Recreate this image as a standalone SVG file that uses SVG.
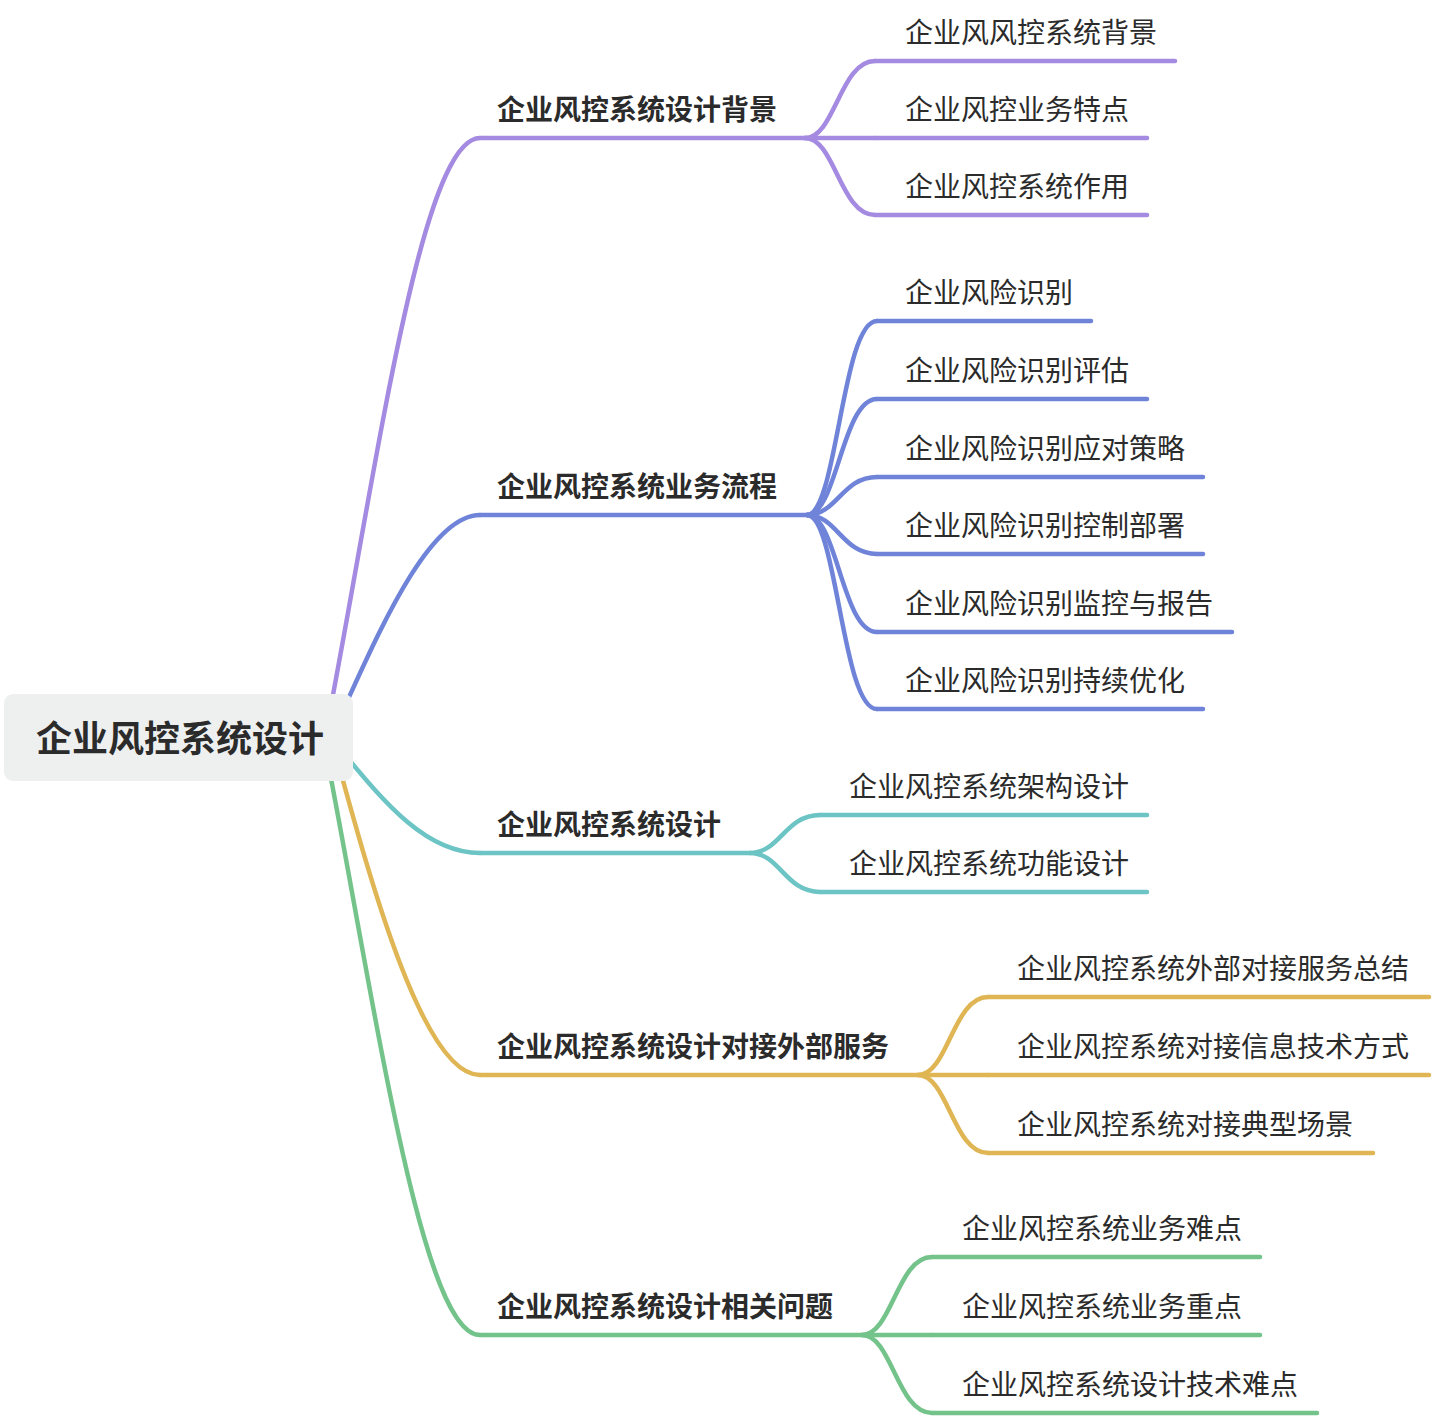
<svg xmlns="http://www.w3.org/2000/svg" width="1432" height="1418" viewBox="0 0 1432 1418">
<style>
text{font-family:"Noto Sans CJK SC","Noto Sans",sans-serif;fill:#2b2b2b}
.root{font-size:36px;font-weight:bold}
.l1{font-size:28px;font-weight:bold}
.l2{font-size:28px}
path,line{fill:none;stroke-width:4.5;stroke-linecap:round}
.p{stroke:#a48ae0}.b{stroke:#6f84d9}.t{stroke:#6cc4c4}.g{stroke:#e0b655}.n{stroke:#74c38b}
</style>
<rect width="1432" height="1418" fill="#ffffff"/>
<g id="connectors">
<path class="p" d="M325 737 C375 480 420 138 480 138"/>
<path class="b" d="M330 737 C360 680 420 515 480 515"/>
<path class="t" d="M330 737 C375 790 420 853 480 853"/>
<path class="g" d="M331 737 C365 860 420 1075 480 1075"/>
<path class="n" d="M323 737 C373 990 420 1335 480 1335"/>
<path class="p" d="M805 138 C835 138 840 61 875 61"/>
<path class="p" d="M805 138 L875 138"/>
<path class="p" d="M805 138 C835 138 840 215 875 215"/>
<path class="b" d="M807 515 C837 515 842 321 877 321"/>
<path class="b" d="M807 515 C837 515 842 399 877 399"/>
<path class="b" d="M807 515 C837 515 842 477 877 477"/>
<path class="b" d="M807 515 C837 515 842 554 877 554"/>
<path class="b" d="M807 515 C837 515 842 632 877 632"/>
<path class="b" d="M807 515 C837 515 842 709 877 709"/>
<path class="t" d="M750 853 C780 853 785 815 820 815"/>
<path class="t" d="M750 853 C780 853 785 892 820 892"/>
<path class="g" d="M918 1075 C948 1075 953 997 988 997"/>
<path class="g" d="M918 1075 L988 1075"/>
<path class="g" d="M918 1075 C948 1075 953 1153 988 1153"/>
<path class="n" d="M862 1335 C892 1335 897 1257 932 1257"/>
<path class="n" d="M862 1335 L932 1335"/>
<path class="n" d="M862 1335 C892 1335 897 1413 932 1413"/>
</g>
<g id="root">
<rect x="4" y="694" width="349" height="87" rx="9" fill="#eef0f0"/>
<text class="root" x="36" y="752">企业风控系统设计</text>
</g>
<g id="n1"><line class="p" x1="480" y1="138" x2="805" y2="138"/><text class="l1" x="497" y="120">企业风控系统设计背景</text></g>
<g id="n1-1"><line class="p" x1="875" y1="61" x2="1175" y2="61"/><text class="l2" x="905" y="43">企业风风控系统背景</text></g>
<g id="n1-2"><line class="p" x1="875" y1="138" x2="1147" y2="138"/><text class="l2" x="905" y="120">企业风控业务特点</text></g>
<g id="n1-3"><line class="p" x1="875" y1="215" x2="1147" y2="215"/><text class="l2" x="905" y="197">企业风控系统作用</text></g>
<g id="n2"><line class="b" x1="480" y1="515" x2="807" y2="515"/><text class="l1" x="497" y="497">企业风控系统业务流程</text></g>
<g id="n2-1"><line class="b" x1="877" y1="321" x2="1091" y2="321"/><text class="l2" x="905" y="303">企业风险识别</text></g>
<g id="n2-2"><line class="b" x1="877" y1="399" x2="1147" y2="399"/><text class="l2" x="905" y="381">企业风险识别评估</text></g>
<g id="n2-3"><line class="b" x1="877" y1="477" x2="1203" y2="477"/><text class="l2" x="905" y="459">企业风险识别应对策略</text></g>
<g id="n2-4"><line class="b" x1="877" y1="554" x2="1203" y2="554"/><text class="l2" x="905" y="536">企业风险识别控制部署</text></g>
<g id="n2-5"><line class="b" x1="877" y1="632" x2="1232" y2="632"/><text class="l2" x="905" y="614">企业风险识别监控与报告</text></g>
<g id="n2-6"><line class="b" x1="877" y1="709" x2="1203" y2="709"/><text class="l2" x="905" y="691">企业风险识别持续优化</text></g>
<g id="n3"><line class="t" x1="480" y1="853" x2="750" y2="853"/><text class="l1" x="497" y="835">企业风控系统设计</text></g>
<g id="n3-1"><line class="t" x1="820" y1="815" x2="1147" y2="815"/><text class="l2" x="849" y="797">企业风控系统架构设计</text></g>
<g id="n3-2"><line class="t" x1="820" y1="892" x2="1147" y2="892"/><text class="l2" x="849" y="874">企业风控系统功能设计</text></g>
<g id="n4"><line class="g" x1="480" y1="1075" x2="918" y2="1075"/><text class="l1" x="497" y="1057">企业风控系统设计对接外部服务</text></g>
<g id="n4-1"><line class="g" x1="988" y1="997" x2="1429" y2="997"/><text class="l2" x="1017" y="979">企业风控系统外部对接服务总结</text></g>
<g id="n4-2"><line class="g" x1="988" y1="1075" x2="1429" y2="1075"/><text class="l2" x="1017" y="1057">企业风控系统对接信息技术方式</text></g>
<g id="n4-3"><line class="g" x1="988" y1="1153" x2="1373" y2="1153"/><text class="l2" x="1017" y="1135">企业风控系统对接典型场景</text></g>
<g id="n5"><line class="n" x1="480" y1="1335" x2="862" y2="1335"/><text class="l1" x="497" y="1317">企业风控系统设计相关问题</text></g>
<g id="n5-1"><line class="n" x1="932" y1="1257" x2="1260" y2="1257"/><text class="l2" x="962" y="1239">企业风控系统业务难点</text></g>
<g id="n5-2"><line class="n" x1="932" y1="1335" x2="1260" y2="1335"/><text class="l2" x="962" y="1317">企业风控系统业务重点</text></g>
<g id="n5-3"><line class="n" x1="932" y1="1413" x2="1317" y2="1413"/><text class="l2" x="962" y="1395">企业风控系统设计技术难点</text></g>
</svg>
